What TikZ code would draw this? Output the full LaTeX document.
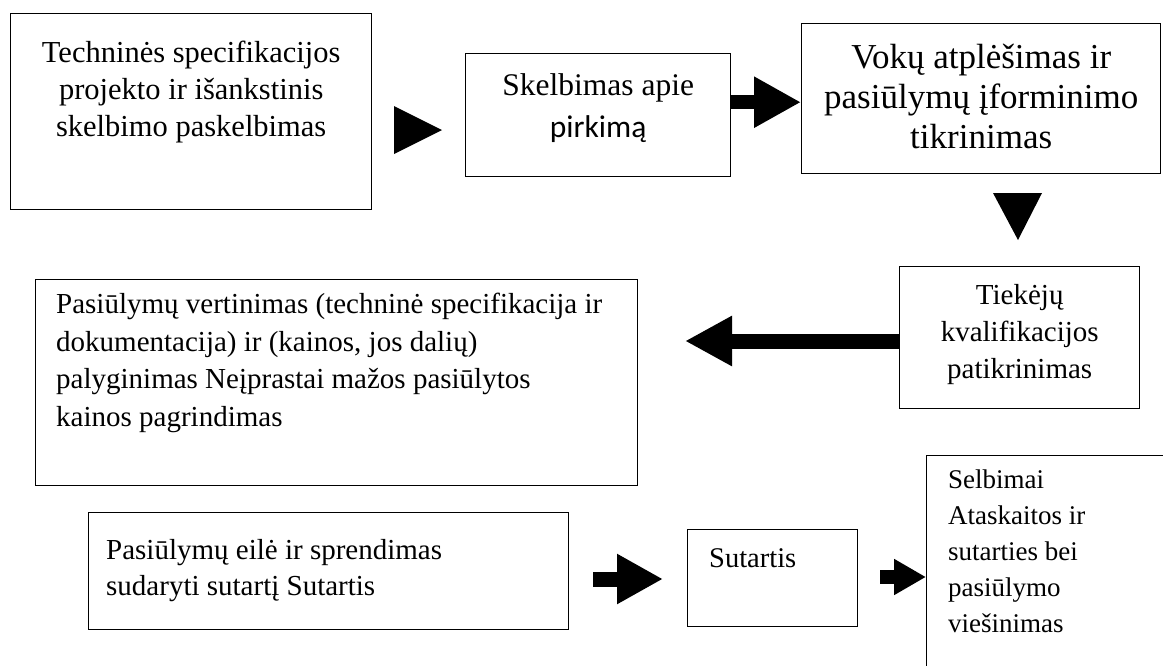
\documentclass[tikz,border=0pt]{standalone}
\usepackage{fontspec}
\setmainfont{Liberation Serif}
\newfontfamily\calibri{Carlito}
\usetikzlibrary{arrows.meta,positioning}
\newcommand\fsz[2]{\fontsize{#1}{#2}\selectfont}

\begin{document}
\begin{tikzpicture}[x=1pt, y=-1pt,
	box/.style={draw, line width=1.4pt, inner sep=0pt, anchor=north west},
	txt/.style={inner sep=0pt, align=center},
	ltxt/.style={inner sep=0pt, align=left},
	blk/.style n args={3}{line width=#1, -{Triangle[width=#2, length=#3]}}]
	\useasboundingbox (0,0) rectangle (1163,665);
	\clip (0,0) rectangle (1163,665);

	\node[box, minimum width=361pt, minimum height=196pt] (b1) at (10,13) {};
	\node[box, minimum width=265pt, minimum height=123pt] (b2) at (465,53) {};
	\node[box, minimum width=359pt, minimum height=150pt] (b3) at (801,23) {};
	\node[box, minimum width=240pt, minimum height=142pt] (b4) at (899,266) {};
	\node[box, minimum width=602pt, minimum height=206pt] (b5) at (35,279) {};
	\node[box, minimum width=480pt, minimum height=117pt] (b6) at (88,512) {};
	\node[box, minimum width=170pt, minimum height=97pt] (b7) at (687,529) {};
	\node[box, minimum width=300pt, minimum height=300pt] (b8) at (926,455) {};

	\node[txt, font=\fsz{30.5}{37}, below=28pt of b1.north] (t1)
		{Techninės specifikacijos\\ projekto ir išankstinis\\ skelbimo paskelbimas};
	\node[txt, font=\fsz{31.5}{42}, below=20pt of b2.north] (t2)
		{Skelbimas apie\\ {\calibri pirkimą}};
	\node[txt, font=\fsz{35}{40}, below=21pt of b3.north] (t3)
		{Vokų atplėšimas ir\\ pasiūlymų įforminimo\\ tikrinimas};
	\node[txt, font=\fsz{29}{37}, below=18pt of b4.north] (t4)
		{Tiekėjų\\ kvalifikacijos\\ patikrinimas};
	\node[ltxt, font=\fsz{29}{37.5}, below=14pt of b5.north west, xshift=21pt, anchor=north west] (t5)
		{Pasiūlymų vertinimas (techninė specifikacija ir\\ dokumentacija) ir (kainos, jos dalių)\\ palyginimas Neįprastai mažos pasiūlytos\\ kainos pagrindimas};
	\node[ltxt, font=\fsz{29}{36}, below right=27pt and 18pt of b6.north west] (t6)
		{Pasiūlymų eilė ir sprendimas\\ sudaryti sutartį Sutartis};
	\node[ltxt, font=\fsz{28.5}{36}, below right=19pt and 22pt of b7.north west] (t7) {Sutartis};
	\node[ltxt, font=\fsz{27}{36}, below right=15pt and 22pt of b8.north west] (t8)
		{Selbimai\\ Ataskaitos ir\\ sutarties bei\\ pasiūlymo\\ viešinimas};

	\coordinate (p4) at (685,341);
	\coordinate (p5) at (593,579);
	\coordinate (q5) at (663,579);
	\coordinate (p6) at (880,577);

	\fill (394,106) -- (394,154) -- (442,130) -- cycle;
	\fill (993,193) -- (1042,193) -- (1018,240) -- cycle;
	\draw[blk={14pt}{48pt}{47pt}] ([yshift=13pt]b2.east) -- ([yshift=13pt]b2.east -| b3.west);
	\draw[blk={15pt}{47pt}{47pt}] (b4.west |- p4) -- (p4);
	\draw[blk={15pt}{47pt}{46pt}] (p5) -- (q5);
	\draw[blk={14pt}{34pt}{32pt}] (p6) -- (p6 -| b8.west);
\end{tikzpicture}
\end{document}
